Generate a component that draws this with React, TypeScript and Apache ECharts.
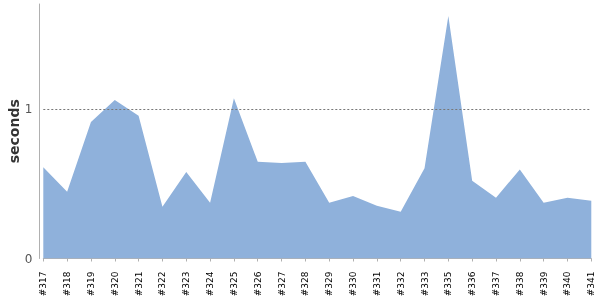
import React, { useEffect, useRef } from "react";
import * as echarts from "echarts";

const builds = [
  "#317", "#318", "#319", "#320", "#321", "#322", "#323", "#324", "#325",
  "#326", "#327", "#328", "#329", "#330", "#331", "#332", "#333", "#335",
  "#336", "#337", "#338", "#339", "#340", "#341",
];

const seconds = [
  0.611, 0.447, 0.914, 1.062, 0.957, 0.347, 0.579, 0.374, 1.073,
  0.648, 0.64, 0.648, 0.374, 0.419, 0.354, 0.313, 0.604, 1.624,
  0.521, 0.407, 0.597, 0.374, 0.407, 0.387,
];

const yTicks = [0, 1];
const yMax = 1.705;
const referenceLine = 1;

export default function App() {
  const ref = useRef<HTMLDivElement>(null);
  useEffect(() => {
    if (!ref.current) return;
    const chart = echarts.init(ref.current, null, { renderer: "svg" });
    chart.setOption({
      animation: false,
      grid: {
        left: 43.3,
        right: 8.7,
        top: 4,
        bottom: 41.5,
        containLabel: false,
        outerBoundsMode: "none",
      },
      xAxis: {
        type: "category",
        data: builds,
        boundaryGap: false,
        offset: 5,
        axisLine: { show: true, lineStyle: { color: "#b0b0b0", width: 1 } },
        axisTick: { show: true, length: 3, alignWithLabel: true, lineStyle: { color: "#b0b0b0" } },
        axisLabel: {
          rotate: 90,
          interval: 0,
          margin: 8,
          color: "#000",
          fontSize: 9,
          fontFamily: "DejaVu Sans",
        },
        splitLine: { show: false },
      },
      yAxis: {
        type: "value",
        min: 0,
        max: yMax,
        interval: 1,
        offset: 4,
        name: "seconds",
        nameLocation: "middle",
        nameGap: 18,
        nameMoveOverlap: false,
        nameRotate: 90,
        nameTextStyle: {
          color: "#333",
          fontSize: 14,
          fontWeight: "bold",
          fontFamily: "DejaVu Sans",
        },
        axisLine: { show: true, lineStyle: { color: "#b0b0b0", width: 1 } },
        axisTick: { show: false },
        axisLabel: {
          margin: 7,
          color: "#555",
          fontSize: 12,
          fontFamily: "DejaVu Sans",
          formatter: (v: number) => (yTicks.includes(v) ? String(v) : ""),
        },
        splitLine: { show: false },
      },
      series: [
        {
          type: "line",
          data: seconds,
          symbol: "none",
          showSymbol: false,
          lineStyle: { opacity: 0, width: 0 },
          areaStyle: { color: "#8fb1db", opacity: 1 },
          markLine: {
            silent: true,
            symbol: "none",
            label: { show: false },
            lineStyle: { color: "#777", width: 1, type: [2, 2] },
            data: [{ yAxis: referenceLine }],
          },
        },
      ],
    });
    return () => chart.dispose();
  }, []);
  return (
    <div
      ref={ref}
      style={{ position: "fixed", left: 0, top: 0, width: 600, height: 300 }}
    />
  );
}
